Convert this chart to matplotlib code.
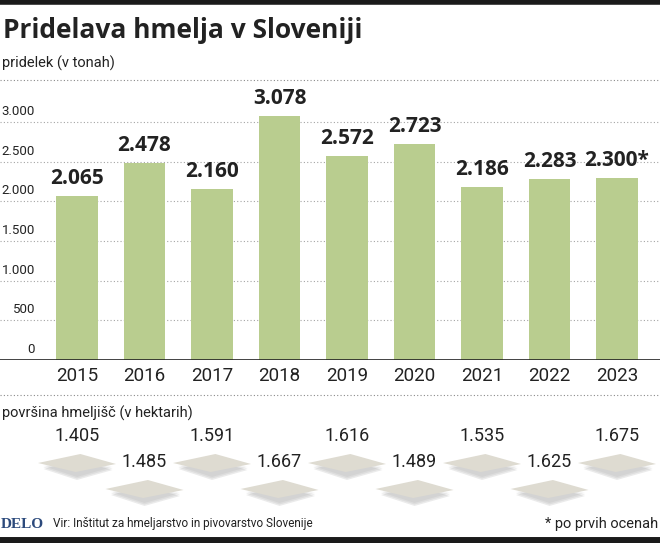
import matplotlib.pyplot as plt
from matplotlib.patches import Polygon
from matplotlib.lines import Line2D

# podatki
leta = ['2015', '2016', '2017', '2018', '2019', '2020', '2021', '2022', '2023']
pridelek = [2065, 2478, 2160, 3078, 2572, 2723, 2186, 2283, 2300]
pridelek_oznake = ['2.065', '2.478', '2.160', '3.078', '2.572', '2.723', '2.186', '2.283', '2.300*']
povrsina = [1405, 1485, 1591, 1667, 1616, 1489, 1535, 1625, 1675]
y_ticks = [0, 500, 1000, 1500, 2000, 2500, 3000]
y_tick_labels = ['0', '500', '1.000', '1.500', '2.000', '2.500', '3.000']

W, H = 660, 543
narrow = ['Roboto', 'DejaVu Sans']
plt.rcParams['font.family'] = narrow

fig = plt.figure(figsize=(W / 100, H / 100), dpi=100)
fig.patch.set_facecolor('white')

xlim = (-77 / 67.5, 8 + (W - 617) / 67.5)

# glavni graf (pridelek)
ax = fig.add_axes([0, (H - 360) / H, 1, 275 / H])
x = list(range(len(leta)))
ax.bar(x, pridelek, width=0.62, color='#b9cd8f', zorder=2)
ax.set_xlim(*xlim)
ax.set_ylim(0, 275 / 0.07933)
for t, lab in zip(y_ticks, y_tick_labels):
    if t > 0:
        ax.axhline(t, color='#a5a5a5', lw=0.8, ls=(0, (1, 2)), zorder=1)
    ax.annotate(lab, (35 / W, t), xycoords=('axes fraction', 'data'),
                xytext=(0, 3), textcoords='offset points',
                ha='right', va='bottom', fontsize=9.5, color='#222222')
ax.axhline(0, color='#222222', lw=1.2, zorder=3)
for xi, v, lab in zip(x, pridelek, pridelek_oznake):
    ax.annotate(lab, (xi, v), xytext=(0, 5), textcoords='offset points',
                ha='center', va='bottom', fontsize=15, fontweight='bold',
                color='#222222', family=['Open Sans', 'DejaVu Sans'])
ax.set_xticks(x)
ax.set_xticklabels(leta, fontsize=13.5, color='#222222')
ax.tick_params(axis='x', length=0, pad=5)
ax.set_yticks([])
for s in ax.spines.values():
    s.set_visible(False)

# prekrivni sloj v pikslih
ov = fig.add_axes([0, 0, 1, 1], zorder=5)
ov.set_xlim(*xlim)
ov.set_ylim(H, 0)
ov.axis('off')
ov.patch.set_alpha(0)

# črne črte zgoraj in spodaj
fig.add_artist(Line2D([0, 1], [1 - 2 / H, 1 - 2 / H], color='#1a1a1a', lw=4))
fig.add_artist(Line2D([0, 1], [3 / H, 3 / H], color='#1a1a1a', lw=5))
for yp in (80, 395):
    fig.add_artist(Line2D([0, 1], [1 - yp / H, 1 - yp / H], color='#8a8a8a',
                          lw=0.8, ls=(0, (1, 2))))

fig.text(3 / W, 1 - 31 / H, 'Pridelava hmelja v Sloveniji', fontsize=19,
         fontweight='bold', color='#222222', va='center',
         family=['Open Sans', 'DejaVu Sans'])
fig.text(2 / W, 1 - 63 / H, 'pridelek (v tonah)', fontsize=10.5,
         color='#222222', va='center')
fig.text(2 / W, 1 - 413 / H, 'površina hmeljišč (v hektarih)', fontsize=10.5,
         color='#222222', va='center')

# površina - vrednosti in romboidi
hw, hh = 39 / 67.5, 9
for i, v in enumerate(povrsina):
    ty = 436 if i % 2 == 0 else 462
    dy = ty + 27
    # senca
    for k, a in enumerate([0.04, 0.06, 0.08]):
        off = 3 + k * 1.5
        ov.add_patch(Polygon([(i - hw + 0.08, dy + off), (i, dy - hh + off),
                              (i + hw - 0.05, dy + off + 1), (i, dy + hh + off + 2)],
                             closed=True, facecolor='black', alpha=a,
                             edgecolor='none'))
    ov.add_patch(Polygon([(i - hw, dy), (i + 0.05, dy - hh),
                          (i + hw, dy + 1), (i - 0.02, dy + hh)],
                         closed=True, facecolor='#dedbd1', edgecolor='none'))
    ov.text(i, ty, f'{v:,}'.replace(',', '.'), ha='center', va='center',
            fontsize=13, color='#222222')

# noga
fig.text(1 / W, 1 - 524 / H, 'DELO', fontsize=11, fontweight='bold',
         color='#2c4a7c', va='center', family=['Liberation Serif', 'DejaVu Serif'])
fig.text(53 / W, 1 - 524 / H, 'Vir: Inštitut za hmeljarstvo in pivovarstvo Slovenije',
         fontsize=8.5, color='#222222', va='center')
fig.text(658 / W, 1 - 524 / H, '* po prvih ocenah', fontsize=10.5,
         color='#222222', va='center', ha='right')

plt.savefig('out.png', dpi=100)
